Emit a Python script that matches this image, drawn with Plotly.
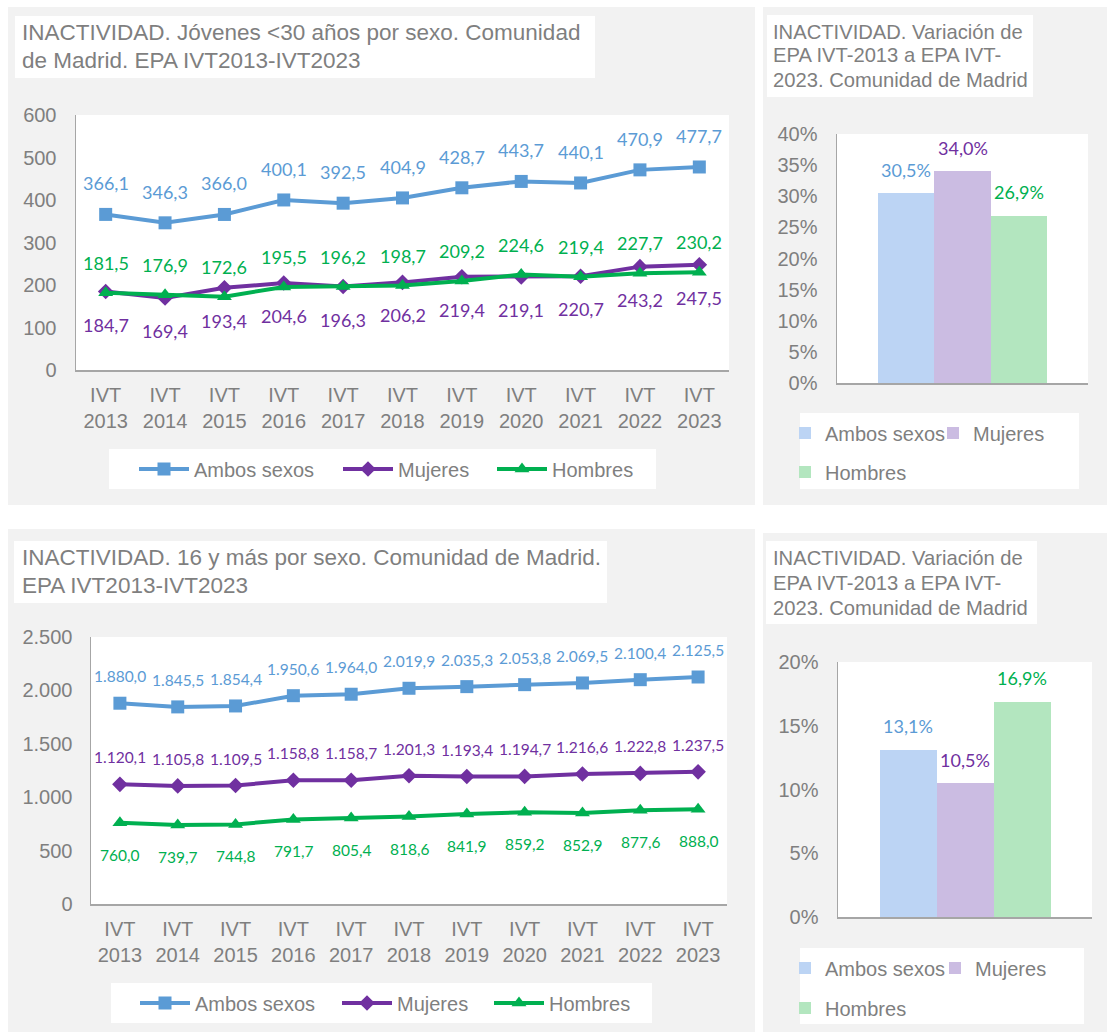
import plotly.graph_objects as go

W, H = 1107, 1032

# ---------------- data ----------------
categories = ["IVT<br>2013", "IVT<br>2014", "IVT<br>2015", "IVT<br>2016", "IVT<br>2017", "IVT<br>2018",
              "IVT<br>2019", "IVT<br>2020", "IVT<br>2021", "IVT<br>2022", "IVT<br>2023"]

jov_ambos = [366.1, 346.3, 366.0, 400.1, 392.5, 404.9, 428.7, 443.7, 440.1, 470.9, 477.7]
jov_mujeres = [184.7, 169.4, 193.4, 204.6, 196.3, 206.2, 219.4, 219.1, 220.7, 243.2, 247.5]
jov_hombres = [181.5, 176.9, 172.6, 195.5, 196.2, 198.7, 209.2, 224.6, 219.4, 227.7, 230.2]

tot_ambos = [1880.0, 1845.5, 1854.4, 1950.6, 1964.0, 2019.9, 2035.3, 2053.8, 2069.5, 2100.4, 2125.5]
tot_mujeres = [1120.1, 1105.8, 1109.5, 1158.8, 1158.7, 1201.3, 1193.4, 1194.7, 1216.6, 1222.8, 1237.5]
tot_hombres = [760.0, 739.7, 744.8, 791.7, 805.4, 818.6, 841.9, 859.2, 852.9, 877.6, 888.0]

sexos = ["Ambos sexos", "Mujeres", "Hombres"]
var_jov = [30.5, 34.0, 26.9]
var_tot = [13.1, 10.5, 16.9]

title_tl = ["INACTIVIDAD. Jóvenes &lt;30 años por sexo. Comunidad", "de Madrid. EPA IVT2013-IVT2023"]
title_tr = ["INACTIVIDAD. Variación de", "EPA IVT-2013 a EPA IVT-", "2023. Comunidad de Madrid"]
title_bl = ["INACTIVIDAD. 16 y más por sexo. Comunidad de Madrid.", "EPA IVT2013-IVT2023"]
title_br = ["INACTIVIDAD. Variación de", "EPA IVT-2013 a EPA IVT-", "2023. Comunidad de Madrid"]

# ---------------- style ----------------
C_AMBOS, C_MUJ, C_HOM = "#5b9bd5", "#7030a0", "#00b050"
LINE_COLORS = [C_AMBOS, C_MUJ, C_HOM]
BAR_COLORS = ["#bcd4f4", "#cbbce2", "#b3e6bf"]
SYMBOLS = ["square", "diamond", "triangle-up"]
SYM_SIZES = [13, 12, 13]
GRAY_TXT = "#7f7f7f"
PANEL = "#f2f2f2"
AXLINE = "#a6a6a6"
ARIAL = "Liberation Sans, Arial, sans-serif"
LBL = "Lato, Calibri, sans-serif"


def px(x):
    return x / W


def py(y):
    return 1 - y / H


def num(v, dec=1):
    s = f"{v:,.{dec}f}"
    return s.replace(",", "X").replace(".", ",").replace("X", ".")


fig = go.Figure()

# ---------------- traces ----------------
line_sets = [
    ("x", "y", [jov_ambos, jov_mujeres, jov_hombres], ["legend", "legend2", "legend3"]),
    ("x3", "y3", [tot_ambos, tot_mujeres, tot_hombres], ["legend7", "legend8", "legend9"]),
]
for xa, ya, series, legs in line_sets:
    for i, vals in enumerate(series):
        fig.add_trace(go.Scatter(
            x=categories, y=vals, name=sexos[i], mode="lines+markers",
            line=dict(color=LINE_COLORS[i], width=4),
            marker=dict(symbol=SYMBOLS[i], size=SYM_SIZES[i], color=LINE_COLORS[i]),
            xaxis=xa, yaxis=ya, legend=legs[i], hoverinfo="skip",
        ))

bar_sets = [
    ("x2", "y2", var_jov, ["legend4", "legend5", "legend6"]),
    ("x4", "y4", var_tot, ["legend10", "legend11", "legend12"]),
]
for xa, ya, vals, legs in bar_sets:
    for i in range(3):
        fig.add_trace(go.Bar(
            x=[sexos[i]], y=[vals[i]], name=sexos[i],
            marker=dict(color=BAR_COLORS[i], line=dict(width=0)),
            xaxis=xa, yaxis=ya, legend=legs[i], hoverinfo="skip",
        ))

# ---------------- shapes (backgrounds) ----------------
shapes = []


def rect(x0, y0, x1, y1, color):
    shapes.append(dict(type="rect", xref="paper", yref="paper", layer="below",
                       x0=px(x0), x1=px(x1), y0=py(y1), y1=py(y0),
                       fillcolor=color, line=dict(width=0)))


# gray panels
rect(8, 7, 755, 505, PANEL)
rect(763, 7, 1107, 505, PANEL)
rect(8, 529, 755, 1032, PANEL)
rect(763, 533, 1107, 1032, PANEL)
# white plot areas
rect(76, 115, 729, 370, "white")
rect(837, 134, 1088, 383, "white")
rect(91, 637, 727, 904, "white")
rect(838, 662, 1092, 917, "white")
# title boxes
rect(15, 16, 595, 78, "white")
rect(767, 15, 1033, 97, "white")
rect(14, 541, 607, 603, "white")
rect(766, 541, 1037, 624, "white")
# legend boxes
rect(109, 449, 656, 489, "white")
rect(800, 413, 1079, 489, "white")
rect(111, 983, 652, 1023, "white")
rect(800, 948, 1084, 1024, "white")

# ---------------- annotations ----------------
annotations = []
# titles: one annotation per line, positioned by baseline (bottom of text box)
title_specs = [
    (title_tl, 20, [46.8, 75.1], 22.5),
    (title_tr, 771, [44.6, 68.0, 92.6], 20.2),
    (title_bl, 20, [571.8, 599.8], 22.5),
    (title_br, 771, [571.3, 596.0, 621.0], 20.2),
]
for lines, x0, ys, fs in title_specs:
    for t, y0 in zip(lines, ys):
        annotations.append(dict(
            text=t, xref="paper", yref="paper", x=px(x0), y=py(y0),
            xanchor="left", yanchor="bottom", align="left", showarrow=False, borderpad=1,
            font=dict(family=ARIAL, size=fs, color=GRAY_TXT),
        ))

# data labels for line charts
label_specs = [
    ("x", "y", jov_ambos, C_AMBOS, 31, 18),
    ("x", "y", jov_mujeres, C_MUJ, -33, 18),
    ("x", "y", jov_hombres, C_HOM, 30, 18),
    ("x3", "y3", tot_ambos, C_AMBOS, 27, 15.5),
    ("x3", "y3", tot_mujeres, C_MUJ, 27, 15.5),
    ("x3", "y3", tot_hombres, C_HOM, -32, 15.5),
]
for xa, ya, vals, col, shift, fs in label_specs:
    for c, v in zip(categories, vals):
        annotations.append(dict(
            x=c, y=v, xref=xa, yref=ya, text=num(v), showarrow=False,
            yshift=shift, font=dict(family=LBL, size=fs, color=col),
        ))

# data labels for bar charts
for xa, ya, vals, legs in bar_sets:
    for i in range(3):
        annotations.append(dict(
            x=sexos[i], y=vals[i], xref=xa, yref=ya, text=num(vals[i]) + "%",
            showarrow=False, yshift=23.5,
            font=dict(family=LBL, size=18, color=LINE_COLORS[i]),
        ))

# ---------------- axes ----------------
tickfont = dict(family=ARIAL, size=20, color=GRAY_TXT)
common = dict(showgrid=False, zeroline=False, showline=True, linecolor=AXLINE, linewidth=1.5,
              tickcolor="rgba(0,0,0,0)", tickfont=tickfont, fixedrange=True)

layout = dict(
    width=W, height=H,
    margin=dict(l=0, r=0, t=0, b=0, autoexpand=False),
    paper_bgcolor="white", plot_bgcolor="rgba(0,0,0,0)",
    separators=",.",
    barmode="overlay", bargap=0,
    shapes=shapes, annotations=annotations,
    showlegend=True,
    xaxis=dict(domain=[px(76), px(729)], anchor="y", type="category", range=[-0.5, 10.5],
               ticks="outside", ticklen=6, **common),
    yaxis=dict(domain=[py(370), py(115)], anchor="x", range=[0, 600], dtick=100,
               ticks="outside", ticklen=14, **common),
    xaxis2=dict(domain=[px(837), px(1088)], anchor="y2", type="category", range=[-1.24, 3.24],
                showticklabels=False, ticks="", **common),
    yaxis2=dict(domain=[py(383), py(134)], anchor="x2", range=[0, 40], dtick=5, ticksuffix="%",
                ticks="outside", ticklen=14, **common),
    xaxis3=dict(domain=[px(91), px(727)], anchor="y3", type="category", range=[-0.5, 10.5],
                ticks="outside", ticklen=6, **common),
    yaxis3=dict(domain=[py(904), py(637)], anchor="x3", range=[0, 2500], dtick=500, tickformat=",",
                ticks="outside", ticklen=13, **common),
    xaxis4=dict(domain=[px(838), px(1092)], anchor="y4", type="category", range=[-1.228, 3.228],
                showticklabels=False, ticks="", **common),
    yaxis4=dict(domain=[py(917), py(662)], anchor="x4", range=[0, 20], dtick=5, ticksuffix="%",
                ticks="outside", ticklen=14, **common),
)

# ---------------- legends (one per entry for exact placement) ----------------
legfont = dict(family=ARIAL, size=20, color=GRAY_TXT)
legend_pos = {
    "legend": (134, 469, 50), "legend2": (338, 469, 50), "legend3": (492, 469, 50),
    "legend4": (785, 433, 30), "legend5": (933, 433, 30), "legend6": (785, 472, 30),
    "legend7": (135, 1003, 50), "legend8": (337, 1003, 50), "legend9": (489, 1003, 50),
    "legend10": (785, 968, 30), "legend11": (935, 968, 30), "legend12": (785, 1008, 30),
}
for name, (lx, ly, iw) in legend_pos.items():
    layout[name] = dict(x=px(lx), y=py(ly), xanchor="left", yanchor="middle",
                        orientation="h", bgcolor="rgba(0,0,0,0)", borderwidth=0,
                        font=legfont, itemwidth=iw, itemclick=False, itemdoubleclick=False)

fig.update_layout(**layout)

fig.write_html("out.html", include_plotlyjs=True, full_html=True,
               config={"displayModeBar": False, "staticPlot": True},
               post_script="document.body.style.margin='0';")
